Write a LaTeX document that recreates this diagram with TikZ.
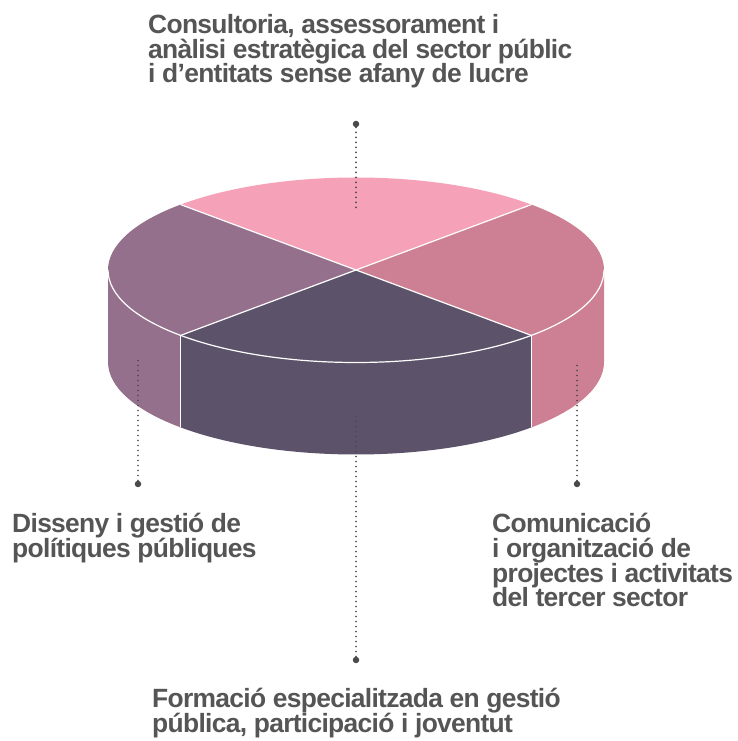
\documentclass[tikz,border=0pt]{standalone}
\usepackage{fontspec}
\setmainfont{Liberation Sans}
\newfontfamily\lblfont{Liberation Sans}[LetterSpace=-2.6]
\definecolor{cTop}{HTML}{F5A1B7}
\definecolor{cRight}{HTML}{CD8093}
\definecolor{cLeft}{HTML}{95708C}
\definecolor{cFront}{HTML}{5C526A}
\definecolor{txtgray}{HTML}{555555}
\definecolor{dotgray}{HTML}{4A4A4A}
\begin{document}
\begin{tikzpicture}[x=1bp,y=1bp,
  lbl/.style={font=\lblfont\bfseries\fontsize{26.5}{25}\selectfont, text=txtgray, align=left, inner sep=0pt, anchor=base west},
  leader/.style={draw=dotgray, line width=1.9bp, line cap=round, dash pattern=on 0bp off 5bp},
  enddot/.style={circle, fill=dotgray, inner sep=0pt, minimum size=6.5bp},
  sepline/.style={draw=white, line width=1.2bp},
  ell/.style={x radius=248, y radius=92.5}]
\useasboundingbox (0,0) rectangle (738,741);
% key points
\coordinate (c) at (356,471);
\coordinate (pE) at (604,471);
\coordinate (pW) at (108,471);
\coordinate (pNE) at (531.36,536.41);
\coordinate (pNW) at (180.64,536.41);
\coordinate (pSE) at (531.36,405.59);
\coordinate (pSW) at (180.64,405.59);
% side walls
\fill[cRight] (pE) arc[start angle=0, end angle=-45, ell] -- ++(0,-92) arc[start angle=-45, end angle=0, ell] -- cycle;
\fill[cFront] (pSE) arc[start angle=-45, end angle=-135, ell] -- ++(0,-92) arc[start angle=-135, end angle=-45, ell] -- cycle;
\fill[cLeft] (pW) arc[start angle=180, end angle=225, ell] -- ++(0,-92) arc[start angle=225, end angle=180, ell] -- cycle;
% top slices
\fill[cTop] (c) -- (pNE) arc[start angle=45, end angle=135, ell] -- cycle;
\fill[cRight] (c) -- (pSE) arc[start angle=-45, end angle=45, ell] -- cycle;
\fill[cLeft] (c) -- (pNW) arc[start angle=135, end angle=225, ell] -- cycle;
\fill[cFront] (c) -- (pSW) arc[start angle=225, end angle=315, ell] -- cycle;
% white separators
\draw[sepline] (pNW) -- (pSE);
\draw[sepline] (pNE) -- (pSW);
\draw[sepline] (pW) arc[start angle=180, end angle=360, ell];
\draw[sepline] (pSW) -- ++(0,-92);
\draw[sepline] (pSE) -- ++(0,-92);
% leaders
\node[enddot] (dTop) at (356,617) {};
\coordinate (eTop) at (356,529);
\draw[leader] (dTop) -- (eTop);
\node[enddot] (dLeft) at (138,257) {};
\coordinate (eLeft) at (138,382);
\draw[leader] (dLeft) -- (eLeft);
\node[enddot] (dRight) at (577,257) {};
\coordinate (eRight) at (577,378);
\draw[leader] (dRight) -- (eRight);
\node[enddot] (dBottom) at (356,81) {};
\coordinate (eBottom) at (356,327);
\draw[leader] (dBottom) -- (eBottom);
% labels (anchor = baseline of last line)
\node[lbl] (tTop) at (148,658) {Consultoria, assessorament i\\anàlisi estratègica del sector públic\\i d’entitats sense afany de lucre};
\node[lbl] (tLeft) at (12,183) {Disseny i gestió de\\polítiques públiques};
\node[lbl] (tRight) at (492,134) {Comunicació\\i organització de\\projectes i activitats\\del tercer sector};
\node[lbl] (tBottom) at (152,8) {Formació especialitzada en gestió\\pública, participació i joventut};
\end{tikzpicture}
\end{document}
